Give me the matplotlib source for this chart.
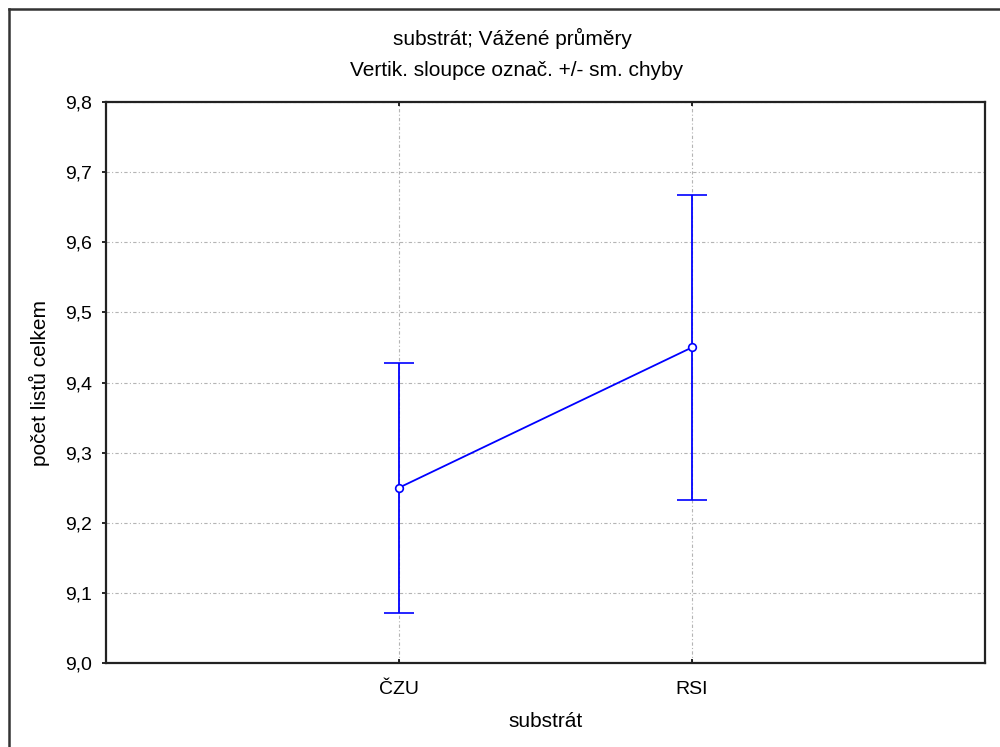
import matplotlib.pyplot as plt
from matplotlib.ticker import FuncFormatter
from matplotlib.lines import Line2D

plt.rcParams['font.family'] = ['Liberation Sans', 'DejaVu Sans']

# data
categories = ['ČZU', 'RSI']
means = [9.25, 9.45]
upper = [9.428, 9.667]
lower = [9.071, 9.232]

x = list(range(len(categories)))
err_lo = [m - l for m, l in zip(means, lower)]
err_hi = [u - m for m, u in zip(means, upper)]

fig = plt.figure(figsize=(10, 7.47), dpi=100)
ax = fig.add_axes([0.106, 0.1124, 0.879, 0.7511])

ax.errorbar(x, means, yerr=[err_lo, err_hi], color='#0000ff', lw=1.3,
            elinewidth=1.3, capsize=11, capthick=1.3,
            marker='o', markersize=5.5, markerfacecolor='white',
            markeredgecolor='#0000ff', markeredgewidth=1.2)

ax.set_xlim(-1, 2)
ax.set_ylim(9.0, 9.8)
ax.set_xticks(x)
ax.set_xticklabels(categories)
ax.set_yticks([9.0, 9.1, 9.2, 9.3, 9.4, 9.5, 9.6, 9.7, 9.8])
ax.yaxis.set_major_formatter(FuncFormatter(lambda v, p: f'{v:.1f}'.replace('.', ',')))

ax.grid(True, color='#b4b4b4', lw=0.8, linestyle=(0, (3, 2, 1, 2)))
ax.set_axisbelow(True)

for s in ax.spines.values():
    s.set_linewidth(1.6)
    s.set_color('#222222')

ax.tick_params(axis='y', direction='out', length=3, width=1.2, labelsize=14, pad=7)
ax.tick_params(axis='x', direction='in', length=3, width=1.2, labelsize=14, pad=13,
               top=True)

ax.set_xlabel('substrát', fontsize=15)
ax.set_ylabel('počet listů celkem', fontsize=15)
ax.xaxis.set_label_coords(0.5, -0.088)
ax.yaxis.set_label_coords(-0.0637, 0.5)

fig.text(0.512, 0.949, 'substrát; Vážené průměry', ha='center', va='center', fontsize=15)
fig.text(0.517, 0.905, 'Vertik. sloupce označ. +/- sm. chyby', ha='center', va='center',
         fontsize=15)

# outer frame (left and top visible only)
fig.add_artist(Line2D([0.009, 0.009], [0, 0.988], color='#333333', lw=1.8,
                      transform=fig.transFigure))
fig.add_artist(Line2D([0.009, 1.0], [0.988, 0.988], color='#333333', lw=1.8,
                      transform=fig.transFigure))

fig.savefig('out.png', dpi=100)
